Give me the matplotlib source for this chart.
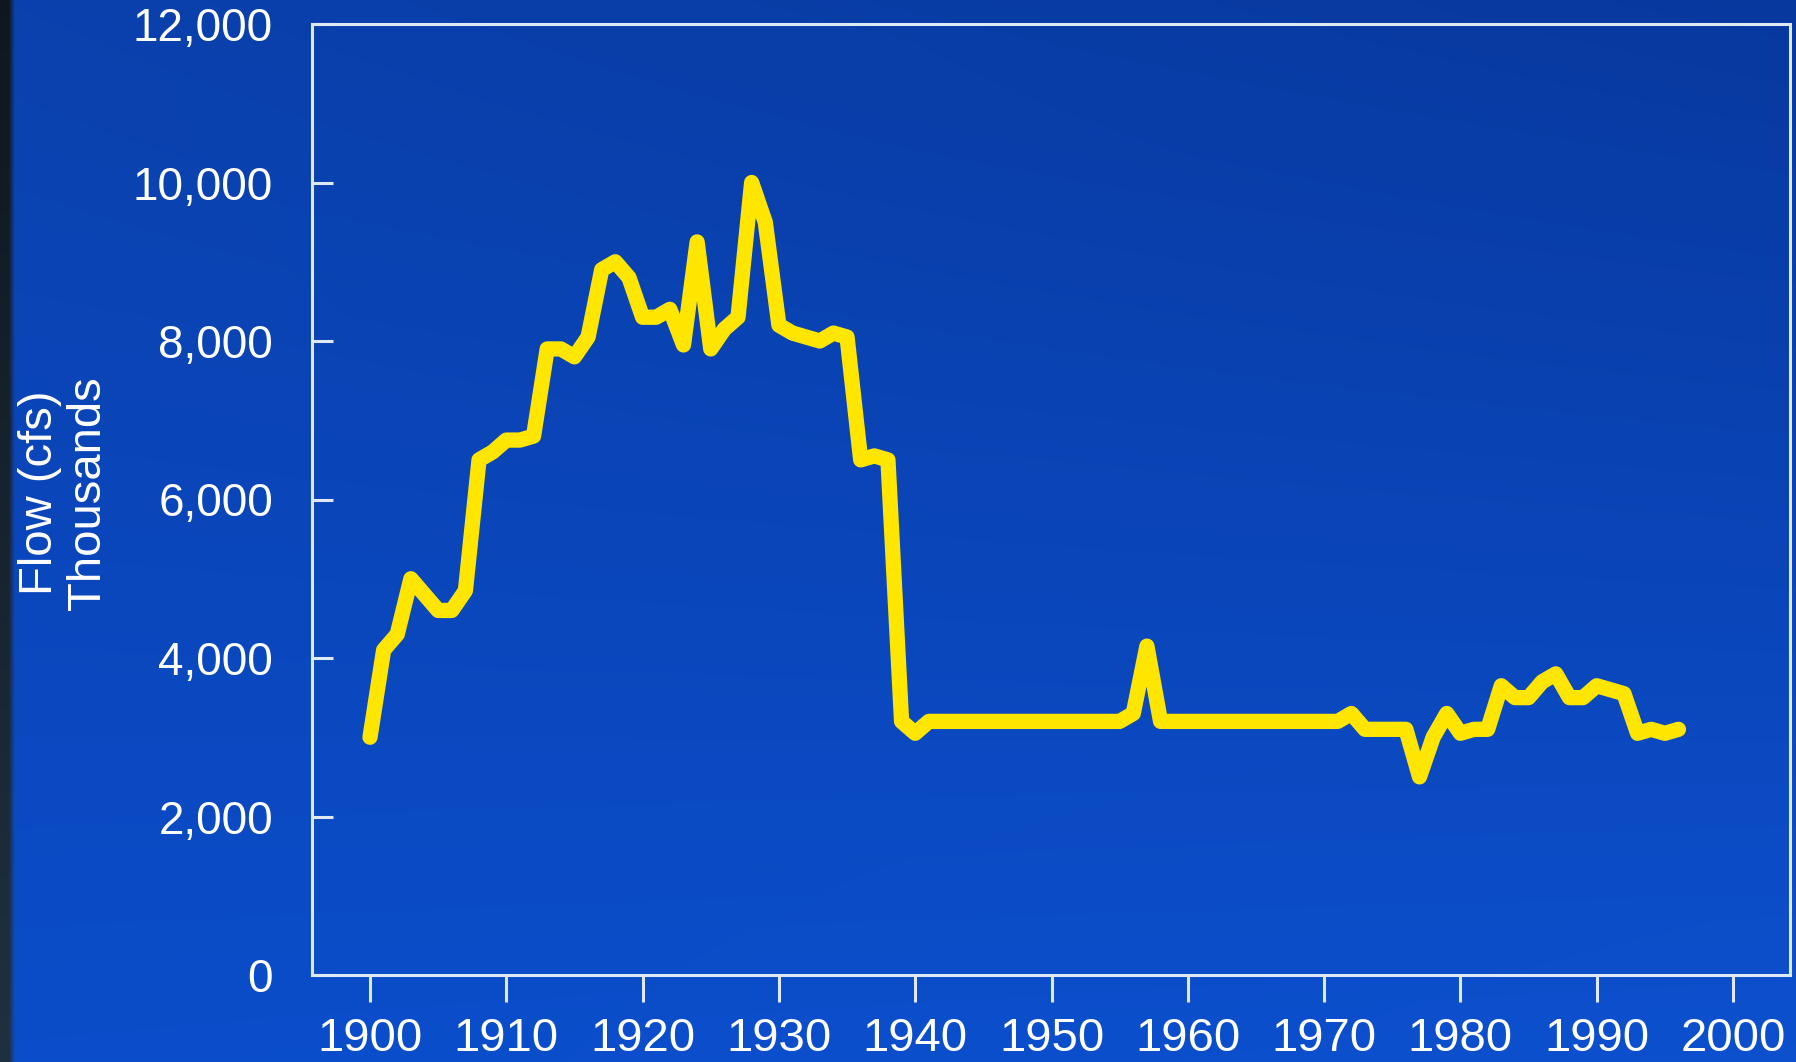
import numpy as np
import matplotlib
matplotlib.use("Agg")
import matplotlib.pyplot as plt
from matplotlib import font_manager

years = list(range(1900, 1997))
flow = [
    3000, 4100, 4300, 5000, 4800, 4600, 4600, 4850, 6500, 6600,   # 1900-1909
    6750, 6750, 6800, 7900, 7900, 7800, 8050, 8900, 9000, 8800,   # 1910-1919
    8300, 8300, 8400, 7950, 9250, 7900, 8150, 8300, 10000, 9500,  # 1920-1929
    8200, 8100, 8050, 8000, 8100, 8050, 6500, 6550, 6500, 3200,   # 1930-1939
    3050, 3200, 3200, 3200, 3200, 3200, 3200, 3200, 3200, 3200,   # 1940-1949
    3200, 3200, 3200, 3200, 3200, 3200, 3300, 4150, 3200, 3200,   # 1950-1959
    3200, 3200, 3200, 3200, 3200, 3200, 3200, 3200, 3200, 3200,   # 1960-1969
    3200, 3200, 3300, 3100, 3100, 3100, 3100, 2500, 3000, 3300,   # 1970-1979
    3050, 3100, 3100, 3650, 3500, 3500, 3700, 3800, 3500, 3500,   # 1980-1989
    3650, 3600, 3550, 3050, 3100, 3050, 3100,                     # 1990-1996
]
x_ticks = [1900, 1910, 1920, 1930, 1940, 1950, 1960, 1970, 1980, 1990, 2000]
y_ticks = [0, 2000, 4000, 6000, 8000, 10000, 12000]
y_label = "Flow (cfs)\nThousands"

avail = {f.name for f in font_manager.fontManager.ttflist}
narrow = "Liberation Sans Narrow" if "Liberation Sans Narrow" in avail else "Liberation Sans"
plt.rcParams['font.family'] = ['Liberation Sans', 'DejaVu Sans']

W, H = 1796, 1062
fig = plt.figure(figsize=(W / 100, H / 100), dpi=100)

# background gradient (photo of slide)
bg = fig.add_axes([0, 0, 1, 1], zorder=-10)
bg.set_axis_off()
ny, nx = 200, 300
yy = np.linspace(0, 1, ny)[:, None]
xx = np.linspace(0, 1, nx)[None, :]
tl = np.array([0.040, 0.255, 0.680])
tr = np.array([0.030, 0.220, 0.620])
bl = np.array([0.040, 0.300, 0.790])
br = np.array([0.050, 0.315, 0.810])
img = ((1 - yy)[..., None] * ((1 - xx)[..., None] * tl + xx[..., None] * tr)
       + yy[..., None] * ((1 - xx)[..., None] * bl + xx[..., None] * br))
strip = xx[0] < 10 / W
for j in np.where(strip)[0]:
    img[:, j, :] = (np.array([0.06, 0.09, 0.12])[None, :] * (1 - yy)
                    + np.array([0.12, 0.19, 0.25])[None, :] * yy)
bg.imshow(img, aspect='auto', extent=[0, 1, 0, 1], interpolation='bilinear')
bg.set_xlim(0, 1)
bg.set_ylim(0, 1)

left, right = 312 / W, 1790 / W
top, bottom = 1 - 24 / H, 1 - 975 / H
ax = fig.add_axes([left, bottom, right - left, top - bottom])
ax.patch.set_alpha(0)

ax.plot(years, flow, color='#FFE600', lw=11, solid_joinstyle='round',
        solid_capstyle='round', zorder=3)

ax.set_xlim(1900 - 58 / 13.63, 1900 + (1790 - 370) / 13.63)
ax.set_ylim(0, 12000)

spine_c = '#dfe8f5'
for s in ax.spines.values():
    s.set_color(spine_c)
    s.set_linewidth(2.2)

ax.set_xticks(x_ticks)
ax.set_xticklabels([str(t) for t in x_ticks], family=[narrow, 'DejaVu Sans'],
                   fontsize=34, color='white')
ax.set_yticks(y_ticks)
ax.set_yticklabels([f"{t:,}" for t in y_ticks], fontsize=33, color='white')
ax.tick_params(axis='x', direction='out', length=19.5, width=2.2,
               color=spine_c, pad=11)
ax.tick_params(axis='y', direction='in', length=15, width=2.2,
               color=spine_c, pad=28)

fig.text(64 / W, 1 - 493 / H, y_label, rotation=90, ha='center', va='center',
         multialignment='center', color='white', fontsize=34,
         family=[narrow, 'DejaVu Sans'], linespacing=1.1)

fig.savefig('out.png', dpi=100)
